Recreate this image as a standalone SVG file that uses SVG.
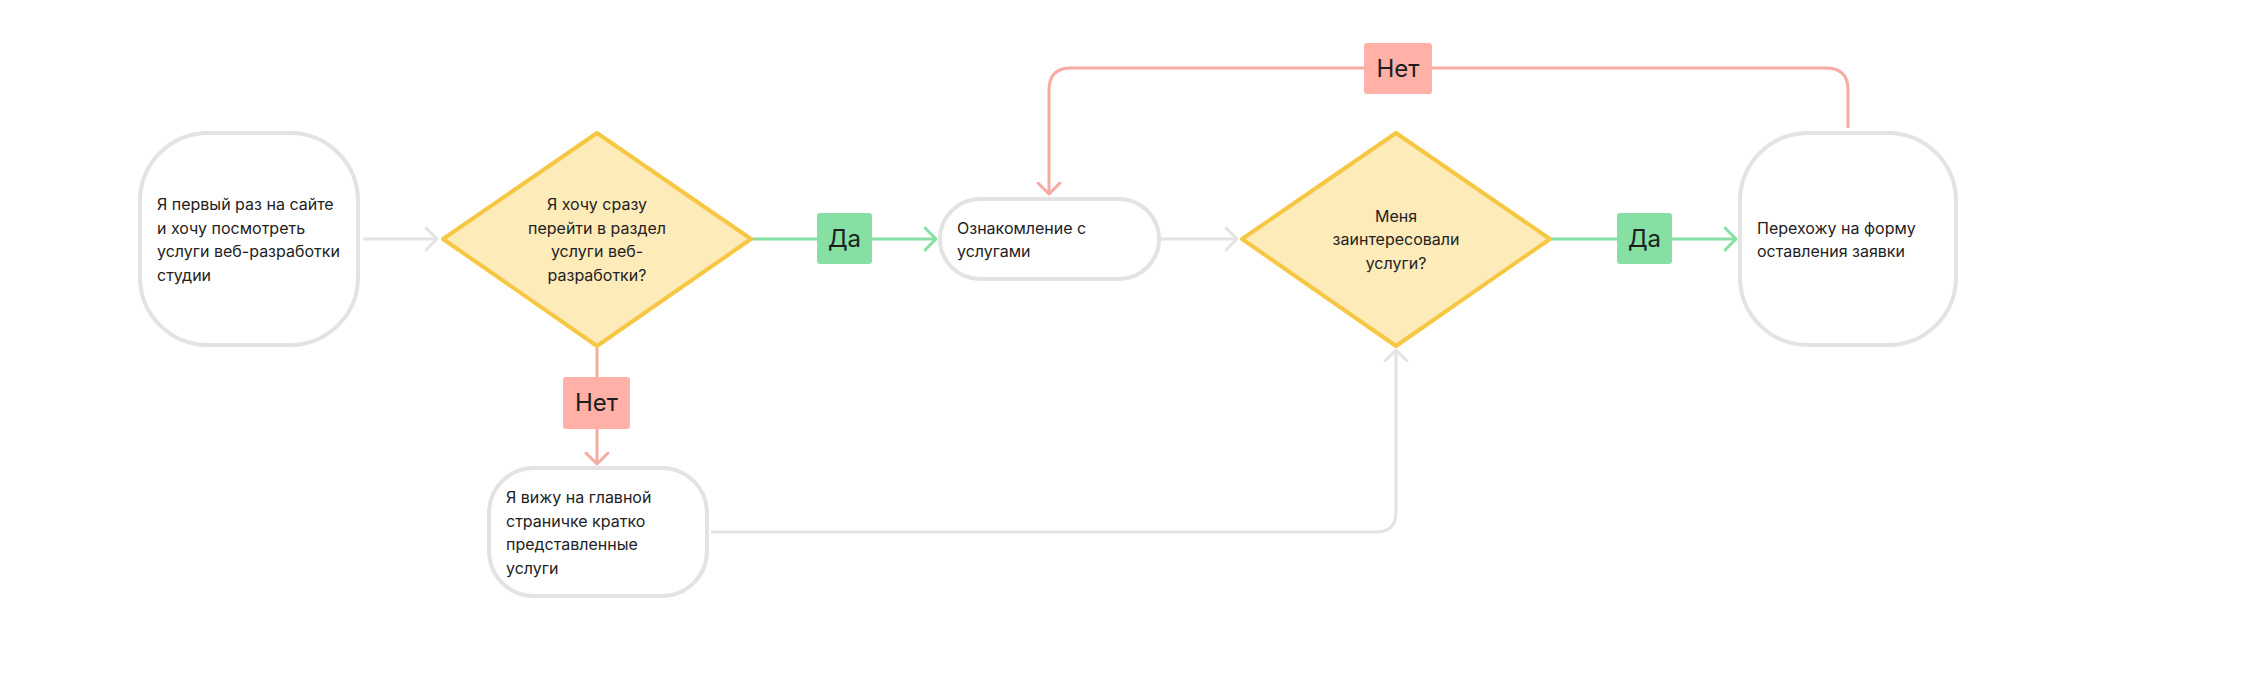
<svg xmlns="http://www.w3.org/2000/svg" width="2259" height="686" viewBox="0 0 2259 686">
<style>
.box{fill:#ffffff;stroke:#e3e3e3;stroke-width:4}
.dia{fill:#fdebba;stroke:#f7c744;stroke-width:4;stroke-linejoin:round}
.t{font-family:Inter,"Noto Sans",sans-serif;font-size:16px;fill:#222222}
.tc{font-family:Inter,"Noto Sans",sans-serif;font-size:16px;fill:#222222;text-anchor:middle}
.ln{fill:none;stroke-width:3}
.g{stroke:#e3e3e3}
.gr{stroke:#86e0a3}
.rd{stroke:#f5aba2}
.lblg{fill:#86e0a3}
.lblr{fill:#ffb0a7}
.lt{font-family:Inter,"Noto Sans",sans-serif;font-size:24px;fill:#1e1e1e;text-anchor:middle}
</style>
<defs>
<marker id="ag" viewBox="0 0 14 26" refX="12" refY="13" markerWidth="14" markerHeight="26" markerUnits="userSpaceOnUse" orient="auto"><path d="M1,2 L12,13 L1,24" fill="none" stroke="#e3e3e3" stroke-width="3" stroke-linecap="round" stroke-linejoin="round"/></marker>
<marker id="agr" viewBox="0 0 14 26" refX="12" refY="13" markerWidth="14" markerHeight="26" markerUnits="userSpaceOnUse" orient="auto"><path d="M1,2 L12,13 L1,24" fill="none" stroke="#86e0a3" stroke-width="3" stroke-linecap="round" stroke-linejoin="round"/></marker>
<marker id="ard" viewBox="0 0 14 26" refX="12" refY="13" markerWidth="14" markerHeight="26" markerUnits="userSpaceOnUse" orient="auto"><path d="M1,2 L12,13 L1,24" fill="none" stroke="#f5aba2" stroke-width="3" stroke-linecap="round" stroke-linejoin="round"/></marker>
</defs>
<rect width="2259" height="686" fill="#ffffff"/>
<g id="connectors">
<path class="ln g" d="M363,239 H437" marker-end="url(#ag)"/>
<path class="ln gr" d="M752,239 H936" marker-end="url(#agr)"/>
<path class="ln g" d="M1161,239 H1237" marker-end="url(#ag)"/>
<path class="ln gr" d="M1551,239 H1736" marker-end="url(#agr)"/>
<path class="ln rd" d="M1848,128 V90 Q1848,68 1826,68 H1071 Q1049,68 1049,90 V194" marker-end="url(#ard)"/>
<path class="ln rd" d="M597,348 V464" marker-end="url(#ard)"/>
<path class="ln g" d="M711,532 H1376 Q1396,532 1396,512 V350" marker-end="url(#ag)"/>
<g id="label-yes-1"><rect class="lblg" x="817" y="213" width="55" height="51" rx="3"/><text class="lt" x="844.5" y="247">Да</text></g>
<g id="label-yes-2"><rect class="lblg" x="1617" y="213" width="55" height="51" rx="3"/><text class="lt" x="1644.5" y="247">Да</text></g>
<g id="label-no-1"><rect class="lblr" x="1364" y="43" width="68" height="51" rx="3"/><text class="lt" x="1398" y="77">Нет</text></g>
<g id="label-no-2"><rect class="lblr" x="563" y="377" width="67" height="52" rx="3"/><text class="lt" x="596.5" y="411">Нет</text></g>
</g>
<g id="n1">
<rect class="box" x="140" y="133" width="218" height="212" rx="68"/>
<text class="t" x="157"><tspan x="157" y="210">Я первый раз на сайте</tspan><tspan x="157" y="233.5">и хочу посмотреть</tspan><tspan x="157" y="257">услуги веб-разработки</tspan><tspan x="157" y="280.5">студии</tspan></text>
</g>
<g id="d1">
<polygon class="dia" points="597,133 751,239 597,346 443,239"/>
<text class="tc"><tspan x="597" y="210">Я хочу сразу</tspan><tspan x="597" y="233.5">перейти в раздел</tspan><tspan x="597" y="257">услуги веб-</tspan><tspan x="597" y="280.5">разработки?</tspan></text>
</g>
<g id="n2">
<rect class="box" x="940" y="199" width="219" height="80" rx="40"/>
<text class="t"><tspan x="957" y="233.5">Ознакомление с</tspan><tspan x="957" y="257">услугами</tspan></text>
</g>
<g id="d2">
<polygon class="dia" points="1396,133 1550,239 1396,346 1242,239"/>
<text class="tc"><tspan x="1396" y="221.5">Меня</tspan><tspan x="1396" y="245">заинтересовали</tspan><tspan x="1396" y="268.5">услуги?</tspan></text>
</g>
<g id="n3">
<rect class="box" x="1740" y="133" width="216" height="212" rx="68"/>
<text class="t"><tspan x="1757" y="233.5">Перехожу на форму</tspan><tspan x="1757" y="257">оставления заявки</tspan></text>
</g>
<g id="n4">
<rect class="box" x="489" y="468" width="218" height="128" rx="45"/>
<text class="t"><tspan x="506" y="503">Я вижу на главной</tspan><tspan x="506" y="526.5">страничке кратко</tspan><tspan x="506" y="550">представленные</tspan><tspan x="506" y="573.5">услуги</tspan></text>
</g>
</svg>
